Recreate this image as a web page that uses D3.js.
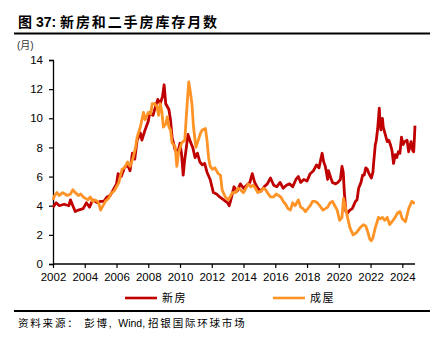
<!DOCTYPE html>
<html><head><meta charset="utf-8">
<script src="https://cdn.jsdelivr.net/npm/d3@7"></script>
<style>body{margin:0;background:#fff}svg{display:block}</style>
</head><body>
<svg id="c" width="440" height="339"></svg>
<script>
const xTicks = [2002,2004,2006,2008,2010,2012,2014,2016,2018,2020,2022,2024];
const yTicks = [0,2,4,6,8,10,12,14];
const seriesNames = ["新房","成屋"];
const newDates = [2002.0,2002.2,2002.4,2002.7,2003.0,2003.1,2003.25,2003.4,2003.6,2003.9,2004.1,2004.3,2004.5,2004.8,2005.0,2005.2,2005.4,2005.6,2005.8,2006.0,2006.1,2006.3,2006.5,2006.7,2006.85,2007.0,2007.15,2007.3,2007.5,2007.6,2007.8,2008.0,2008.1,2008.3,2008.4,2008.6,2008.75,2008.9,2009.0,2009.1,2009.3,2009.4,2009.5,2009.7,2009.9,2010.0,2010.1,2010.2,2010.3,2010.4,2010.5,2010.65,2010.8,2010.95,2011.1,2011.25,2011.4,2011.55,2011.7,2011.9,2012.1,2012.3,2012.5,2012.75,2013.0,2013.1,2013.2,2013.4,2013.6,2013.8,2014.0,2014.2,2014.4,2014.55,2014.7,2014.9,2015.1,2015.3,2015.5,2015.7,2015.9,2016.1,2016.3,2016.5,2016.7,2016.9,2017.1,2017.3,2017.45,2017.6,2017.8,2018.0,2018.2,2018.4,2018.6,2018.75,2018.85,2018.95,2019.05,2019.15,2019.3,2019.35,2019.5,2019.6,2019.8,2019.95,2020.1,2020.2,2020.28,2020.35,2020.45,2020.55,2020.7,2020.85,2021.05,2021.15,2021.25,2021.4,2021.5,2021.6,2021.7,2021.8,2021.9,2022.05,2022.15,2022.2,2022.3,2022.35,2022.45,2022.55,2022.6,2022.65,2022.75,2022.8,2022.9,2023.05,2023.15,2023.25,2023.35,2023.45,2023.55,2023.65,2023.75,2023.85,2023.95,2024.05,2024.15,2024.3,2024.4,2024.55,2024.65,2024.72,2024.8];
const newValues = [3.9,4.2,4.0,4.1,4.0,4.4,4.0,3.6,3.7,3.8,4.2,3.9,4.4,4.2,4.3,4.3,4.6,4.7,5.1,5.5,6.2,6.0,6.6,6.8,6.4,7.6,7.2,8.5,9.0,8.5,9.2,9.8,10.4,10.2,10.6,11.3,11.0,11.5,12.3,11.0,10.6,9.9,8.7,7.8,7.8,8.3,7.5,6.1,7.2,8.0,8.9,8.4,8.0,7.3,7.6,7.0,6.8,6.9,6.3,5.8,4.9,4.8,4.6,4.4,4.2,4.0,4.4,5.3,5.0,5.5,5.2,5.4,5.6,6.2,5.6,5.2,5.0,5.3,5.5,5.9,5.4,5.3,5.6,5.2,5.4,5.5,5.3,5.8,6.0,5.6,5.8,5.7,6.2,6.4,6.8,6.6,7.1,7.6,7.0,6.7,5.8,6.4,5.9,5.6,5.5,5.6,5.8,6.7,6.3,4.9,3.6,3.5,3.7,3.8,4.3,4.4,5.2,5.6,6.1,6.1,6.6,6.5,6.2,5.9,6.3,7.0,8.2,8.4,9.3,10.7,9.7,9.2,10.0,9.4,9.0,8.4,8.5,8.2,7.8,6.9,7.5,7.3,7.7,7.6,8.7,8.2,8.4,8.5,7.7,8.4,7.8,7.7,9.5];
const usedDates = [2002.0,2002.1,2002.25,2002.4,2002.6,2002.75,2002.9,2003.1,2003.25,2003.4,2003.6,2003.75,2003.9,2004.05,2004.2,2004.35,2004.5,2004.65,2004.8,2004.9,2005.0,2005.1,2005.3,2005.5,2005.7,2005.85,2006.0,2006.15,2006.35,2006.5,2006.7,2006.85,2007.05,2007.2,2007.3,2007.5,2007.7,2007.8,2008.0,2008.15,2008.25,2008.4,2008.55,2008.65,2008.75,2008.85,2008.95,2009.1,2009.2,2009.3,2009.4,2009.5,2009.6,2009.7,2009.8,2009.9,2010.1,2010.3,2010.45,2010.55,2010.65,2010.75,2010.85,2011.0,2011.15,2011.3,2011.4,2011.6,2011.7,2011.8,2011.9,2012.05,2012.2,2012.4,2012.55,2012.65,2012.85,2013.05,2013.15,2013.3,2013.5,2013.65,2013.8,2014.0,2014.15,2014.3,2014.45,2014.6,2014.75,2014.9,2015.1,2015.25,2015.4,2015.5,2015.7,2015.9,2016.05,2016.2,2016.35,2016.5,2016.65,2016.8,2016.95,2017.1,2017.25,2017.45,2017.6,2017.75,2017.9,2018.05,2018.2,2018.35,2018.5,2018.65,2018.8,2019.0,2019.15,2019.3,2019.45,2019.6,2019.75,2019.9,2020.05,2020.2,2020.3,2020.4,2020.55,2020.7,2020.9,2021.05,2021.15,2021.35,2021.55,2021.7,2021.8,2021.95,2022.05,2022.15,2022.3,2022.5,2022.6,2022.75,2022.9,2023.05,2023.2,2023.35,2023.55,2023.7,2023.85,2024.0,2024.2,2024.4,2024.6,2024.7,2024.8];
const usedValues = [4.4,4.7,4.9,4.7,4.9,4.8,4.7,4.8,5.1,4.9,4.7,4.8,4.6,4.5,4.4,4.6,4.3,4.4,4.3,4.1,3.7,3.9,4.3,4.5,4.9,5.0,5.3,5.6,6.5,6.6,7.0,6.7,7.3,8.0,8.7,9.4,10.4,9.9,10.4,10.3,11.0,11.0,10.8,10.2,11.0,10.5,9.4,9.6,10.1,9.4,9.2,8.3,8.2,8.0,6.7,7.6,8.3,8.5,11.0,12.5,11.8,11.0,9.4,8.0,8.5,9.0,9.2,9.3,8.5,7.3,6.7,6.5,6.6,6.2,6.1,5.1,4.6,4.4,4.6,4.9,4.9,5.2,5.1,4.9,5.2,5.5,5.3,5.4,5.2,4.9,5.0,5.2,5.1,4.9,4.6,4.6,4.8,4.7,4.6,4.3,4.1,3.8,3.7,4.2,4.0,4.4,3.9,3.8,3.6,3.8,4.0,4.3,4.3,4.2,4.0,3.7,3.8,3.9,4.2,4.3,4.0,3.7,3.0,3.2,4.5,4.0,3.2,2.5,2.0,2.1,2.2,2.5,2.7,2.6,2.3,1.7,1.6,1.8,2.5,3.2,3.1,3.2,3.0,3.2,2.7,2.9,3.2,3.5,3.6,3.1,2.9,3.8,4.3,4.2,4.2];

const colors = ["#C00000","#FF9326"];
const font = "'Liberation Sans', Arial, 'Noto Sans CJK SC', sans-serif";
const svg = d3.select("#c");
const x = d3.scaleLinear().domain([2002, 2024.8]).range([53, 415]);
const y = d3.scaleLinear().domain([0, 14]).range([264, 60]);

// title
const t = svg.append("text").attr("x",18).attr("y",27).attr("font-family",font)
  .attr("font-size",14).attr("font-weight","bold").attr("fill","#000");
t.append("tspan").text("图 ");
t.append("tspan").text("37: ");
t.append("tspan").attr("letter-spacing",1.9).text("新房和二手房库存月数");
svg.append("line").attr("x1",14).attr("x2",430).attr("y1",33.5).attr("y2",33.5)
  .attr("stroke","#000").attr("stroke-width",2);
svg.append("text").attr("x",17).attr("y",49).attr("font-family",font)
  .attr("font-size",10).attr("fill","#333").text("(月)");

// axes
const yAxis = d3.axisLeft(y).tickValues(yTicks).tickSize(4).tickFormat(d3.format("d"));
const gy = svg.append("g").attr("transform","translate(53,0)").call(yAxis);
const xAxis = d3.axisBottom(x).tickValues(xTicks).tickSize(4).tickFormat(d3.format("d"));
const gx = svg.append("g").attr("transform","translate(0,264)").call(xAxis);
[gy,gx].forEach(g=>{
  g.select(".domain").attr("stroke","#000").attr("stroke-width",1.3);
  g.selectAll(".tick line").attr("stroke","#000").attr("stroke-width",1.2);
  g.selectAll("text").attr("font-family",font).attr("font-size",11.5).attr("fill","#000");
});
gy.selectAll("text").attr("x",-10);
gx.selectAll("text").attr("y",9);
gx.select(".domain").attr("d","M53,0H415");

// lines
const line = d3.line().x(d=>x(d[0])).y(d=>y(d[1]));
const used = usedDates.map((d,i)=>[d,usedValues[i]]);
const neu = newDates.map((d,i)=>[d,newValues[i]]);
svg.append("path").datum(neu).attr("d",line).attr("fill","none")
  .attr("stroke",colors[0]).attr("stroke-width",2.8).attr("stroke-linejoin","round");
svg.append("path").datum(used).attr("d",line).attr("fill","none")
  .attr("stroke",colors[1]).attr("stroke-width",2.8).attr("stroke-linejoin","round");

// legend
const leg = [[125,162],[273,310]];
seriesNames.forEach((n,i)=>{
  svg.append("line").attr("x1",leg[i][0]).attr("x2",leg[i][0]+32).attr("y1",298).attr("y2",298)
    .attr("stroke",colors[i]).attr("stroke-width",2.6);
  svg.append("text").attr("x",leg[i][1]).attr("y",302).attr("font-family",font)
    .attr("font-size",11).attr("letter-spacing",1.5).attr("fill","#000").text(n);
});

svg.append("line").attr("x1",14).attr("x2",430).attr("y1",311).attr("y2",311)
  .attr("stroke","#000").attr("stroke-width",2);
const s = svg.append("text").attr("x",18).attr("y",327).attr("font-family",font)
  .attr("font-size",10.5).attr("fill","#000");
s.append("tspan").attr("letter-spacing",1.8).text("资料来源： 彭博, ");
s.append("tspan").text("Wind, ");
s.append("tspan").attr("letter-spacing",1.8).text("招银国际环球市场");
</script>
</body></html>
